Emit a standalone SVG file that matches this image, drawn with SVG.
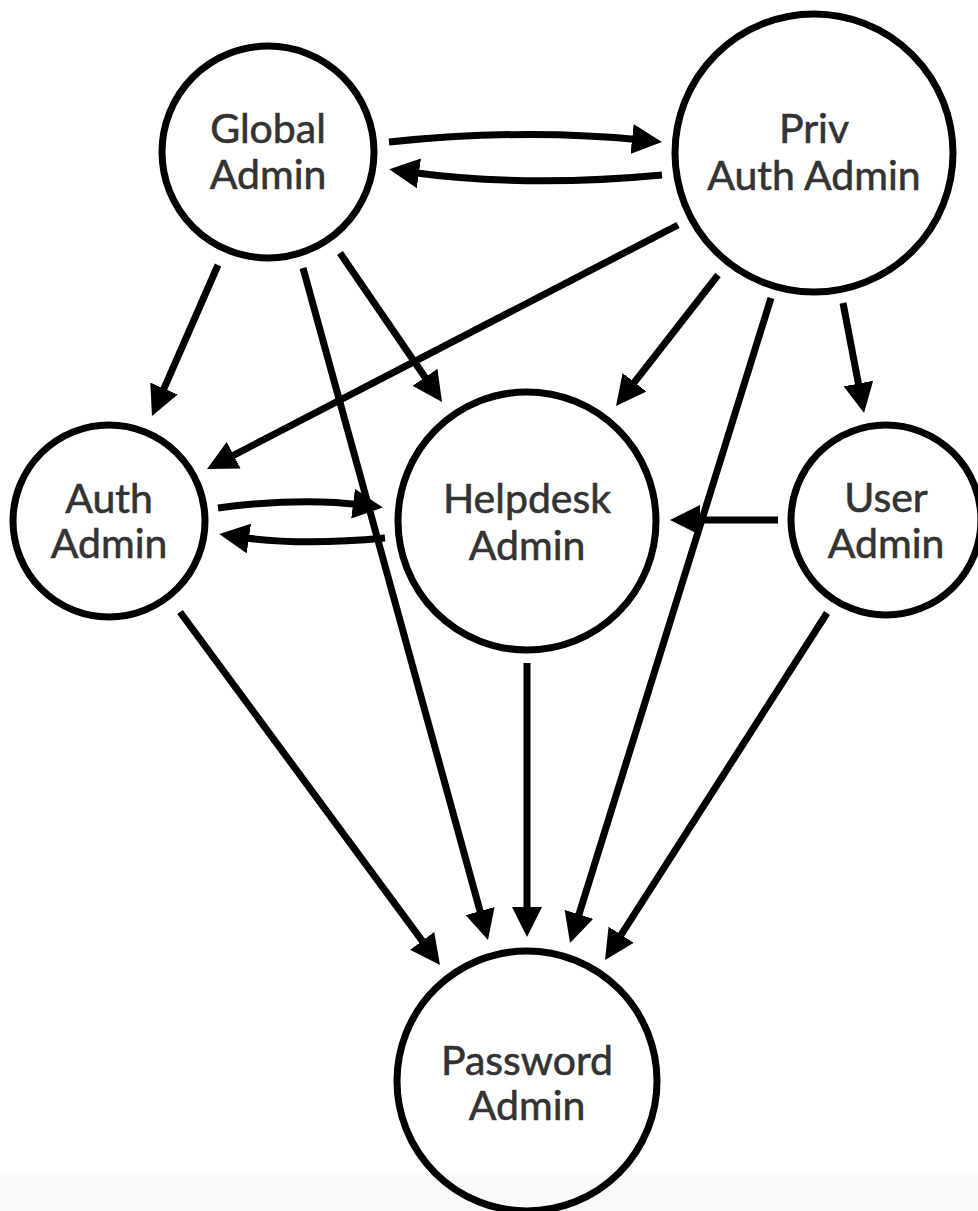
<svg xmlns="http://www.w3.org/2000/svg" width="978" height="1211" viewBox="0 0 978 1211">
<style>
.node circle{fill:none;stroke:#000;stroke-width:7}
.node text{font-family:Lato,"Liberation Sans",sans-serif;font-size:41px;fill:#333;stroke:#333;stroke-width:0.6;text-anchor:middle}
.edges path{fill:none;stroke:#000;stroke-width:7;marker-end:url(#ah)}
</style>
<defs>
<marker id="ah" markerUnits="userSpaceOnUse" markerWidth="30" markerHeight="30" refX="10" refY="15" orient="auto" viewBox="0 0 30 30">
<path d="M0,0 L30,15 L0,30 z" fill="#000"/>
</marker>
</defs>
<rect x="0" y="0" width="978" height="1211" fill="#fff"/>
<rect x="0" y="1173" width="978" height="38" fill="#f9f9f9"/>
<g class="edges" id="connectors">
<path d="M389,142 Q525,128 642,140"/>
<path d="M662,175 Q525,188 409,172"/>
<path d="M218,265 L160,397.7"/>
<path d="M303,268 L482.7,920.7"/>
<path d="M340,253 L430.7,385.5"/>
<path d="M678,225 L224.8,459.8"/>
<path d="M718,275 L628.3,390.2"/>
<path d="M771,298 L576,923.9"/>
<path d="M843,303 L860.3,393.4"/>
<path d="M778,520 L690,520"/>
<path d="M218,508 Q300,497 363,505"/>
<path d="M385,538 Q300,546 239,537"/>
<path d="M180,612 L428.1,948.9"/>
<path d="M527,663 L527,917"/>
<path d="M827,613 L615.8,943.2"/>
</g>
<g class="node" id="global-admin">
<circle cx="268" cy="152" r="106"/>
<text x="268" y="143">Global</text>
<text x="268" y="189">Admin</text>
</g>
<g class="node" id="priv-auth-admin">
<circle cx="814" cy="153" r="139"/>
<text x="814" y="143">Priv</text>
<text x="814" y="190">Auth Admin</text>
</g>
<g class="node" id="auth-admin">
<circle cx="109" cy="521" r="96"/>
<text x="109" y="513">Auth</text>
<text x="109" y="558">Admin</text>
</g>
<g class="node" id="helpdesk-admin">
<circle cx="527" cy="521" r="129"/>
<text x="527" y="513">Helpdesk</text>
<text x="527" y="560">Admin</text>
</g>
<g class="node" id="user-admin">
<circle cx="886" cy="520" r="95"/>
<text x="886" y="512">User</text>
<text x="886" y="558">Admin</text>
</g>
<g class="node" id="password-admin">
<circle cx="527" cy="1081" r="130"/>
<text x="527" y="1075">Password</text>
<text x="527" y="1120">Admin</text>
</g>
</svg>
